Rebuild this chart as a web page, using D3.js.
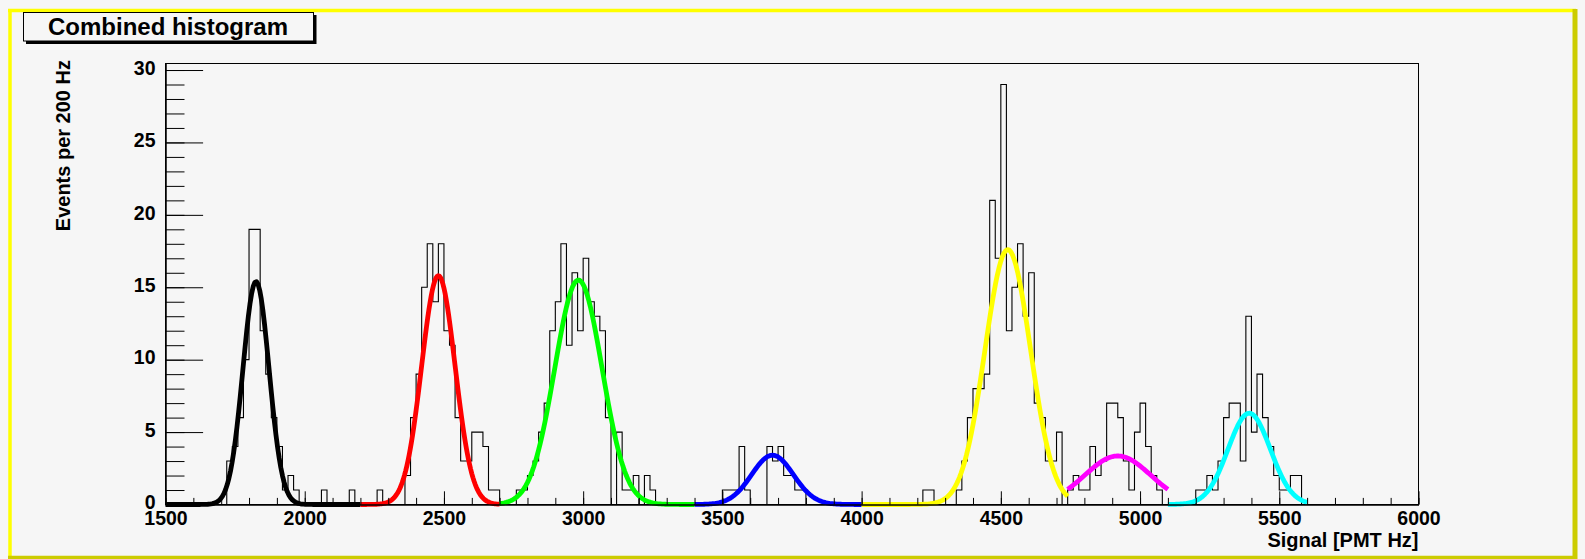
<!DOCTYPE html>
<html><head><meta charset="utf-8">
<script src="https://cdn.jsdelivr.net/npm/d3@7"></script>
<style>
html,body{margin:0;padding:0;background:#f6f6f6;}
svg{display:block;}
text{font-family:"Liberation Sans",Arial,Helvetica,sans-serif;font-weight:bold;fill:#000;}
</style></head><body>
<svg id="c" width="1585" height="559"></svg>
<script>
// ---- data ----
const histTitle = "Combined histogram";
const xTitle = "Signal [PMT Hz]";
const yTitle = "Events per 200 Hz";
const xDomain = [1500, 6000];
const yMax = 30.45;
const binWidth = 20;
// lower edge of every non-empty bin and its content
const binLow = [1720,1740,1760,1780,1800,1820,1840,1860,1880,1900,1920,1940,1960,2060,2160,2260,
  2360,2380,2400,2420,2440,2460,2480,2500,2520,2540,2560,2580,2600,2620,2640,2660,2680,
  2760,2780,2800,2820,2840,2860,2880,2900,2920,2940,2960,2980,3000,3020,3040,3060,3080,3120,3140,3160,3180,3220,3240,
  3500,3520,3540,3560,3580,3660,3680,3700,3720,3740,3760,3780,
  4220,4240,4340,4360,4380,4400,4420,4440,4460,4480,4500,4520,4540,4560,4580,4600,4620,4640,4660,4680,4700,
  4740,4760,4780,4800,4820,4840,4860,4880,4900,4920,4940,4960,4980,5000,5020,5040,5060,
  5200,5220,5240,5260,5280,5300,5320,5340,5360,5380,5400,5420,5440,5460,5480,5500,5520,5540,5560];
const binCount = [3,4,6,10,19,19,12,9,6,4,1,2,1,1,1,1,
  2,6,9,15,18,14,18,12,11,6,3,3,5,5,4,1,1,
  1,1,2,3,5,7,12,14,18,11,16,12,17,14,13,12,6,5,1,1,2,2,1,
  1,1,1,4,1,4,3,4,2,2,1,1,
  1,1,1,3,6,8,8,9,21,17,29,12,15,18,13,16,7,6,3,3,5,
  1,2,1,1,4,2,3,7,7,6,3,1,5,7,4,2,1,
  1,1,2,1,3,6,7,7,3,13,5,9,6,4,2,1,1,2,2];
const xMajor = [1500,2000,2500,3000,3500,4000,4500,5000,5500,6000];
const yMajor = [0,5,10,15,20,25,30];
// gaussian fits
const fitAmp   = [15.4, 15.8, 15.5, 3.4, 17.6, 3.35, 6.3];
const fitMean  = [1825, 2480, 2983, 3680, 4525, 4920, 5392];
const fitSigma = [47, 60, 85, 75, 82, 118, 76];
const fitFrom  = [1500, 2200, 2700, 3400, 4000, 4740, 5100];
const fitTo    = [2200, 2700, 3400, 4000, 4740, 5100, 5600];
const fitColor = ["#000000","#ff0000","#00ff00","#0000ff","#ffff00","#ff00ff","#00ffff"];

// ---- drawing ----
const svg = d3.select("#c");
const L = 165.5, R = 1418.5, T = 63.5, B = 504.5;
const x = d3.scaleLinear().domain(xDomain).range([L, R]);
const y = d3.scaleLinear().domain([0, yMax]).range([B, T]);

// canvas border
svg.append("rect").attr("x",0).attr("y",0).attr("width",1585).attr("height",559).attr("fill","#f6f6f6");
svg.append("line").attr("x1",8).attr("x2",1576).attr("y1",10.5).attr("y2",10.5).attr("stroke","#ffff00").attr("stroke-width",3.5);
svg.append("line").attr("x1",10).attr("x2",10).attr("y1",9).attr("y2",559).attr("stroke","#ffff00").attr("stroke-width",3.5);
svg.append("line").attr("x1",1575).attr("x2",1575).attr("y1",9).attr("y2",559).attr("stroke","#cccc00").attr("stroke-width",5);
svg.append("line").attr("x1",8).attr("x2",1577).attr("y1",557.5).attr("y2",557.5).attr("stroke","#cccc00").attr("stroke-width",3.5);

// title box with shadow
svg.append("rect").attr("x",26).attr("y",15).attr("width",290.5).attr("height",29).attr("fill","#000");
svg.append("rect").attr("x",23.5).attr("y",12.5).attr("width",290).attr("height",28.5)
  .attr("fill","#f6f6f6").attr("stroke","#000").attr("stroke-width",1);
svg.append("text").attr("x",168).attr("y",35).attr("text-anchor","middle")
  .style("font-size","24px").text(histTitle);

// frame
svg.append("rect").attr("x",L).attr("y",T).attr("width",R-L).attr("height",B-T)
  .attr("fill","none").attr("stroke","#000").attr("stroke-width",1);

// histogram
const nBins = (xDomain[1]-xDomain[0])/binWidth;
const counts = new Array(nBins).fill(0);
binLow.forEach((v,i)=>{ counts[Math.round((v-xDomain[0])/binWidth)] = binCount[i]; });
const pts = [[xDomain[0],0]];
counts.forEach((c,i)=>pts.push([xDomain[0]+i*binWidth, c]));
pts.push([xDomain[1], counts[nBins-1]]);
pts.push([xDomain[1], 0]);
svg.append("path").attr("d", d3.line().x(d=>x(d[0])).y(d=>y(d[1])).curve(d3.curveStepAfter)(pts))
  .attr("fill","none").attr("stroke","#000").attr("stroke-width",1.1);

// fits
fitAmp.forEach((A,k)=>{
  const n = 120;
  const p = d3.range(n+1).map(j=>{
    const v = fitFrom[k] + (fitTo[k]-fitFrom[k])*j/n;
    return [v, A*Math.exp(-0.5*Math.pow((v-fitMean[k])/fitSigma[k],2))];
  });
  svg.append("path").attr("d", d3.line().x(d=>x(d[0])).y(d=>y(d[1]))(p))
    .attr("fill","none").attr("stroke",fitColor[k]).attr("stroke-width",4.8)
    .attr("stroke-linejoin","round");
});

// axes
const gx = svg.append("g").attr("transform",`translate(0,${B})`);
gx.call(d3.axisBottom(x).tickValues(d3.range(1500,6001,100)).tickSize(-6.6).tickSizeOuter(0).tickFormat(""));
const gx2 = svg.append("g").attr("transform",`translate(0,${B})`);
gx2.call(d3.axisBottom(x).tickValues(xMajor).tickSize(-13.2).tickSizeOuter(0).tickPadding(7).tickFormat(d3.format("d")));
const gy = svg.append("g").attr("transform",`translate(${L},0)`);
gy.call(d3.axisLeft(y).tickValues(d3.range(0,31,1)).tickSize(-19).tickSizeOuter(0).tickFormat(""));
const gy2 = svg.append("g").attr("transform",`translate(${L},0)`);
gy2.call(d3.axisLeft(y).tickValues(yMajor).tickSize(-37.6).tickSizeOuter(0).tickPadding(10).tickFormat(d3.format("d")));
svg.selectAll(".domain").attr("stroke","#000");
svg.selectAll(".tick line").attr("stroke","#000");
[gx2,gy2].forEach(g=>g.selectAll("text").attr("fill","#000")
  .style("font-family",'"Liberation Sans",Arial,sans-serif').style("font-weight","bold").style("font-size","19.5px"));
gy2.selectAll("text").attr("dy","0.22em");

// axis titles
svg.append("text").attr("x",R).attr("y",547).attr("text-anchor","end").style("font-size","20px").text(xTitle);
svg.append("text").attr("transform","translate(69.5,60) rotate(-90)").attr("text-anchor","end")
  .style("font-size","20px").text(yTitle);
</script>
</body></html>
